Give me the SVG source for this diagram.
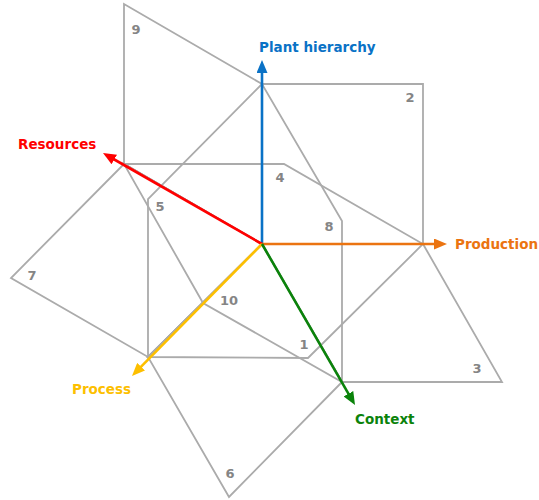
<svg xmlns="http://www.w3.org/2000/svg" width="539" height="500" viewBox="0 0 539 500">
  <style>
    .face { fill: none; stroke: #ababab; stroke-width: 1.8; stroke-linejoin: miter; }
    .num { font-family: "DejaVu Sans", Verdana, sans-serif; font-size: 13px; font-weight: bold; fill: #858585; text-anchor: middle; }
    .axis { stroke-width: 2.6; fill: none; }
    .axlabel { font-family: "DejaVu Sans", Verdana, sans-serif; font-size: 13.5px; font-weight: bold; }
  </style>
  <defs>
    <marker id="arrBlue" viewBox="0 0 13 11" refX="7" refY="5.5" markerWidth="13" markerHeight="11" markerUnits="userSpaceOnUse" orient="auto"><path d="M0,0 L13,5.5 L0,11 z" fill="#0a72c6"/></marker>
    <marker id="arrOrange" viewBox="0 0 13 11" refX="7" refY="5.5" markerWidth="13" markerHeight="11" markerUnits="userSpaceOnUse" orient="auto"><path d="M0,0 L13,5.5 L0,11 z" fill="#eb7411"/></marker>
    <marker id="arrRed" viewBox="0 0 13 11" refX="7" refY="5.5" markerWidth="13" markerHeight="11" markerUnits="userSpaceOnUse" orient="auto"><path d="M0,0 L13,5.5 L0,11 z" fill="#ff0000"/></marker>
    <marker id="arrYellow" viewBox="0 0 13 11" refX="7" refY="5.5" markerWidth="13" markerHeight="11" markerUnits="userSpaceOnUse" orient="auto"><path d="M0,0 L13,5.5 L0,11 z" fill="#fdbf00"/></marker>
    <marker id="arrGreen" viewBox="0 0 13 11" refX="7" refY="5.5" markerWidth="13" markerHeight="11" markerUnits="userSpaceOnUse" orient="auto"><path d="M0,0 L13,5.5 L0,11 z" fill="#0b830b"/></marker>
  </defs>

  <!-- Faces spanned by each pair of axes, all sharing the origin (262,244) -->
  <g id="face9"><polygon class="face" points="262,244 124,164 124,4 262,84"/><text class="num" x="136" y="34">9</text></g>
  <g id="face2"><polygon class="face" points="262,244 262,84 423,84 423,244"/><text class="num" x="410" y="102">2</text></g>
  <g id="face4"><polygon class="face" points="262,244 124,164 284,164 423,244"/><text class="num" x="280" y="182">4</text></g>
  <g id="face5"><polygon class="face" points="262,244 262,84 148,199 148,357"/><text class="num" x="160" y="211">5</text></g>
  <g id="face8"><polygon class="face" points="262,244 262,84 342,221 342,382"/><text class="num" x="329" y="231">8</text></g>
  <g id="face3"><polygon class="face" points="262,244 423,244 502,382 342,382"/><text class="num" x="477" y="373">3</text></g>
  <g id="face1"><polygon class="face" points="262,244 423,244 308,358 148,357"/><text class="num" x="304" y="349">1</text></g>
  <g id="face6"><polygon class="face" points="262,244 148,357 229,497 342,382"/><text class="num" x="230" y="478">6</text></g>
  <g id="face7"><polygon class="face" points="262,244 124,164 11,278 148,357"/><text class="num" x="32" y="280">7</text></g>
  <g id="face10"><polygon class="face" points="262,244 124,164 203,303 342,382"/><text class="num" x="229" y="305">10</text></g>

  <!-- Axes -->
  <g id="connectors">
    <line class="axis" stroke="#0a72c6" x1="262" y1="244" x2="262" y2="66" marker-end="url(#arrBlue)"/>
    <line class="axis" stroke="#eb7411" x1="262" y1="244" x2="441" y2="244" marker-end="url(#arrOrange)"/>
    <line class="axis" stroke="#ff0000" x1="262" y1="244" x2="108.2" y2="156" marker-end="url(#arrRed)"/>
    <line class="axis" stroke="#fdbf00" x1="262" y1="244" x2="136.2" y2="371.7" marker-end="url(#arrYellow)"/>
    <line class="axis" stroke="#0b830b" x1="262" y1="244" x2="352" y2="399.8" marker-end="url(#arrGreen)"/>
  </g>

  <g id="axis-labels">
    <text class="axlabel" fill="#0a72c6" x="259" y="52">Plant hierarchy</text>
    <text class="axlabel" fill="#eb7411" x="455" y="249">Production</text>
    <text class="axlabel" fill="#ff0000" x="18" y="149">Resources</text>
    <text class="axlabel" fill="#fdbf00" x="72" y="394">Process</text>
    <text class="axlabel" fill="#0b830b" x="355" y="424">Context</text>
  </g>
</svg>
